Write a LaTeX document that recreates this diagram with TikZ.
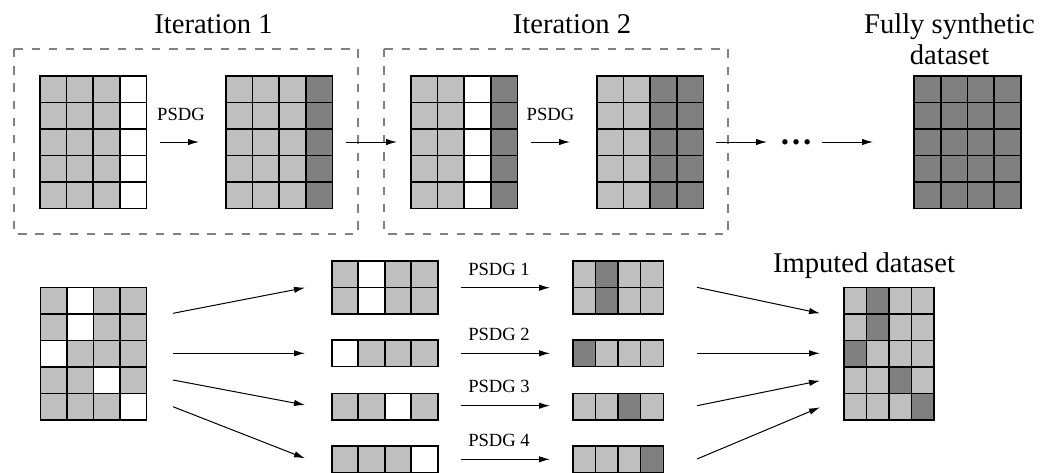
\documentclass[tikz,border=0pt]{standalone}
\usepackage{fontspec}
\setmainfont{Liberation Serif}
\usetikzlibrary{arrows.meta,fit}

\definecolor{cL}{gray}{0.75}
\definecolor{cW}{gray}{1}
\definecolor{cD}{gray}{0.5}
\definecolor{boxgray}{gray}{0.5}

\newcommand{\gridrowh}{26.5}
% #1 name, #2 left x, #3 top y, #4 cell width, #5 number of rows, #6 rows of cell codes (L/W/D)
\newcommand{\cellgrid}[6]{%
  \foreach \rowspec [count=\r] in {#6} {
    \foreach \cc [count=\k] in \rowspec {
      \filldraw[cell, fill=c\cc] ({#2+(\k-1)*#4},{#3+(\r-1)*\gridrowh}) rectangle ++(#4,\gridrowh);
    }
  }
  \node[inner sep=0pt, fit={({#2},{#3}) ({#2+4*#4},{#3+#5*\gridrowh})}] (#1) {};
}

\tikzset{
  cell/.style={draw=black, line width=0.8pt},
  flow/.style={line width=0.5pt, -{Latex[length=5.5pt,width=3.2pt]}},
  iterbox/.style={draw=boxgray, line width=1.4pt, dash pattern=on 4.2pt off 4.4pt},
  bigtext/.style={font=\fontsize{14.3}{15.5}\selectfont, inner sep=0pt, anchor=base},
  smalltext/.style={font=\fontsize{9.3}{11}\selectfont, inner sep=0pt, anchor=base},
}

\begin{document}
\begin{tikzpicture}[x=0.5pt, y=-0.5pt]
\useasboundingbox (0,0) rectangle (1054,472);

% ---------- iterative generation ----------
\draw[iterbox] (14,49) rectangle (358,234);
\draw[iterbox] (384,49) rectangle (728,234);

\node[bigtext] (it1) at (213.5,33) {Iteration 1};
\node[bigtext] (it2) at (572,33) {Iteration 2};
\node[bigtext, align=center] (full) at (949.5,64) {Fully synthetic\\dataset};

\cellgrid{g1}{40}{76}{26.6}{5}{{L,L,L,W},{L,L,L,W},{L,L,L,W},{L,L,L,W},{L,L,L,W}}
\cellgrid{g2}{226}{76}{26.6}{5}{{L,L,L,D},{L,L,L,D},{L,L,L,D},{L,L,L,D},{L,L,L,D}}
\cellgrid{g3}{411}{76}{26.6}{5}{{L,L,W,D},{L,L,W,D},{L,L,W,D},{L,L,W,D},{L,L,W,D}}
\cellgrid{g4}{597}{76}{26.6}{5}{{L,L,D,D},{L,L,D,D},{L,L,D,D},{L,L,D,D},{L,L,D,D}}
\cellgrid{g5}{914}{76}{26.7}{5}{{D,D,D,D},{D,D,D,D},{D,D,D,D},{D,D,D,D},{D,D,D,D}}

\coordinate (a1s) at (160,142); \coordinate (a1e) at (199,142);
\coordinate (a2s) at (346,142); \coordinate (a2e) at (397,142);
\coordinate (a3s) at (531,142); \coordinate (a3e) at (570,142);
\coordinate (a4s) at (716,142); \coordinate (a4e) at (767,142);
\coordinate (a5s) at (822,142); \coordinate (a5e) at (873,142);

\draw[flow] (a1s) -- (a1e);
\draw[flow] (a2s) -- (a2e);
\draw[flow] (a3s) -- (a3e);
\draw[flow] (a4s) -- (a4e);
\draw[flow] (a5s) -- (a5e);

\node[smalltext] (p1) at (181,120.5) {PSDG};
\node[smalltext] (p2) at (550.5,120.5) {PSDG};
\node[font=\fontsize{16.5}{18}\selectfont\bfseries, inner sep=0pt, anchor=base] (dots) at (796,144) {…};

% ---------- imputation ----------
\node[bigtext] (imp) at (864,272.7) {Imputed dataset};

\cellgrid{src}{40.5}{287.3}{26.5}{5}{{L,W,L,L},{L,W,L,L},{W,L,L,L},{L,L,W,L},{L,L,L,W}}

\cellgrid{ma}{331.7}{261}{26.5}{2}{{L,W,L,L},{L,W,L,L}}
\cellgrid{mb}{331.7}{340}{26.5}{1}{{W,L,L,L}}
\cellgrid{mc}{331.7}{393.3}{26.5}{1}{{L,L,W,L}}
\cellgrid{md}{331.7}{446}{26.5}{1}{{L,L,L,W}}

\cellgrid{ra}{572.7}{261}{22.65}{2}{{L,D,L,L},{L,D,L,L}}
\cellgrid{rb}{572.7}{340}{22.65}{1}{{D,L,L,L}}
\cellgrid{rc}{572.7}{393.3}{22.65}{1}{{L,L,D,L}}
\cellgrid{rd}{572.7}{446}{22.65}{1}{{L,L,L,D}}

\cellgrid{imputed}{844}{287.3}{22.5}{5}{{L,D,L,L},{L,D,L,L},{D,L,L,L},{L,L,D,L},{L,L,L,D}}

% split arrows
\coordinate (s1) at (173,313.3); \coordinate (t1) at (305,287.7);
\coordinate (s2) at (173,353.3); \coordinate (t2) at (305,353.3);
\coordinate (s3) at (173,380);   \coordinate (t3) at (305,405);
\coordinate (s4) at (173,406.7); \coordinate (t4) at (305,458.3);
\draw[flow] (s1) -- (t1);
\draw[flow] (s2) -- (t2);
\draw[flow] (s3) -- (t3);
\draw[flow] (s4) -- (t4);

% per-part generators
\coordinate (q1s) at (460.7,287.7); \coordinate (q1e) at (550,287.7);
\coordinate (q2s) at (460.7,353.3); \coordinate (q2e) at (550,353.3);
\coordinate (q3s) at (460.7,405.7); \coordinate (q3e) at (550,405.7);
\coordinate (q4s) at (460.7,459.3); \coordinate (q4e) at (550,459.3);
\draw[flow] (q1s) -- (q1e);
\draw[flow] (q2s) -- (q2e);
\draw[flow] (q3s) -- (q3e);
\draw[flow] (q4s) -- (q4e);

\node[smalltext] (l1) at (499,275) {PSDG 1};
\node[smalltext] (l2) at (499,340.7) {PSDG 2};
\node[smalltext] (l3) at (499,392.7) {PSDG 3};
\node[smalltext] (l4) at (499,446) {PSDG 4};

% merge arrows
\coordinate (m1s) at (697,287.3); \coordinate (m1e) at (820,313.3);
\coordinate (m2s) at (697,353.3); \coordinate (m2e) at (820,353.3);
\coordinate (m3s) at (697,405.7); \coordinate (m3e) at (820,380.7);
\coordinate (m4s) at (697,459);   \coordinate (m4e) at (820,407.3);
\draw[flow] (m1s) -- (m1e);
\draw[flow] (m2s) -- (m2e);
\draw[flow] (m3s) -- (m3e);
\draw[flow] (m4s) -- (m4e);
\end{tikzpicture}
\end{document}
